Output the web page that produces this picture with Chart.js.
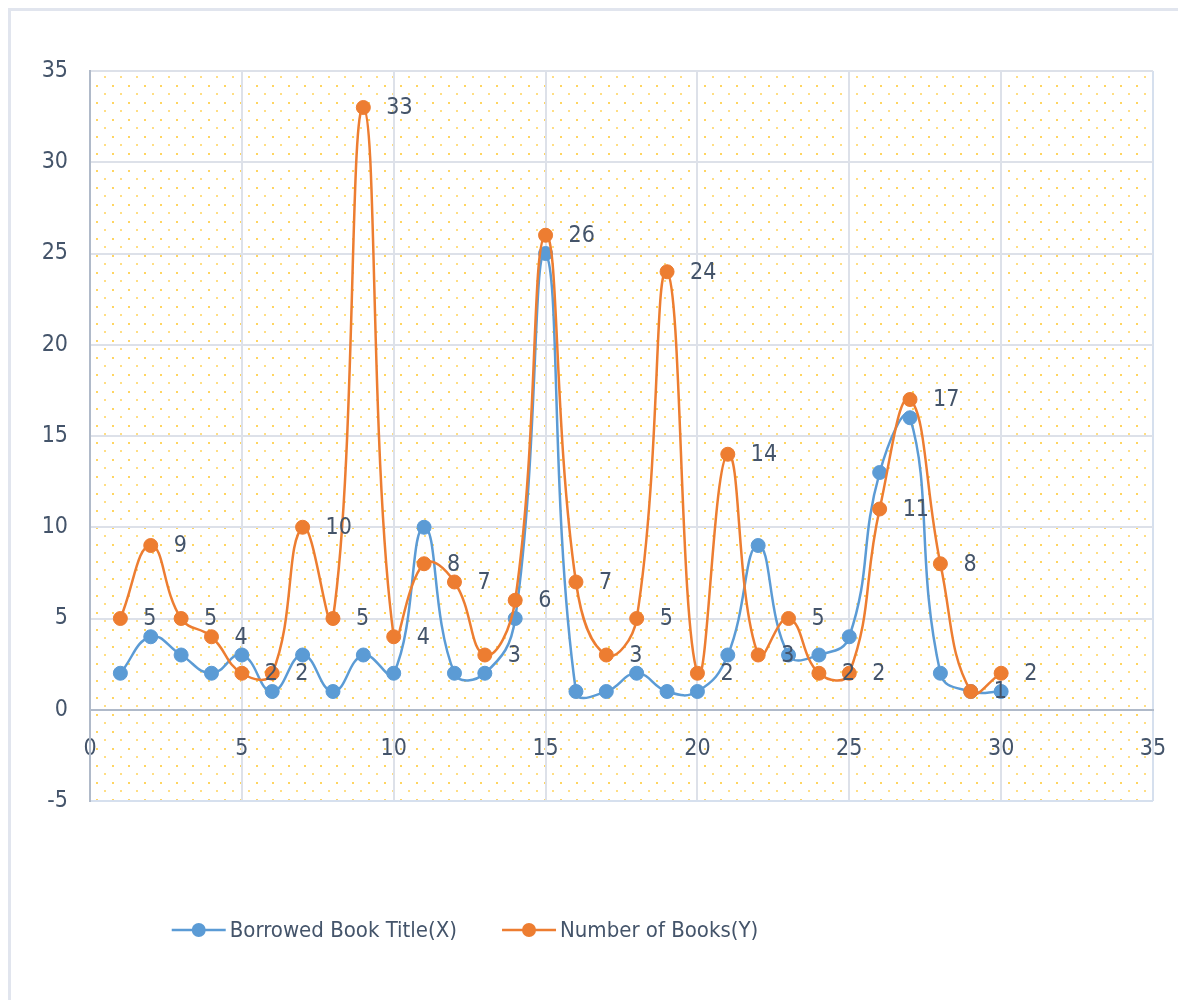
<!DOCTYPE html>
<html>
<head>
<meta charset="utf-8">
<script src="https://cdn.jsdelivr.net/npm/chart.js@4.4.0/dist/chart.umd.min.js"></script>
<style>
  html, body { margin: 0; padding: 0; background: #fff; }
  #wrap { width: 1178px; height: 1000px; }
</style>
</head>
<body>
<div id="wrap"><canvas id="chart" width="1178" height="1000"></canvas></div>
<script>
// chart values
const titleIndex = [1, 2, 3, 4, 5, 6, 7, 8, 9, 10, 11, 12, 13, 14, 15,
                    16, 17, 18, 19, 20, 21, 22, 23, 24, 25, 26, 27, 28, 29, 30];
const borrowedTitles = [2, 4, 3, 2, 3, 1, 3, 1, 3, 2, 10, 2, 2, 5, 25,
                        1, 1, 2, 1, 1, 3, 9, 3, 3, 4, 13, 16, 2, 1, 1];
const bookCounts = [5, 9, 5, 4, 2, 2, 10, 5, 33, 4, 8, 7, 3, 6, 26,
                    7, 3, 5, 24, 2, 14, 3, 5, 2, 2, 11, 17, 8, 1, 2];
const seriesNames = ['Borrowed Book Title(X)', 'Number of Books(Y)'];
const xRange = [0, 35];
const yRange = [-5, 35];
const tickStep = 5;

const BLUE = '#5b9bd5';
const ORANGE = '#ed7d31';
const TEXT = '#44546a';
const FONT = "'Liberation Sans Narrow', 'DejaVu Sans Condensed', sans-serif";

function toPoints(ys) {
    return titleIndex.map((x, i) => ({ x: x, y: ys[i] }));
}

// yellow dotted fill behind the plot
function makeDots() {
    const c = document.createElement('canvas');
    c.width = 16; c.height = 17;
    const g = c.getContext('2d');
    g.fillStyle = 'rgba(255, 208, 80, 0.9)';
    g.fillRect(0, 0, 2, 2);
    g.fillStyle = 'rgba(255, 208, 80, 0.7)';
    g.fillRect(8, 8, 2, 2);
    return c;
}

const backdrop = {
    id: 'backdrop',
    beforeDraw(chart) {
        const { ctx, chartArea: a } = chart;
        ctx.save();
        ctx.fillStyle = '#fff';
        ctx.fillRect(0, 0, chart.width, chart.height);
        ctx.strokeStyle = '#e1e5ee';
        ctx.lineWidth = 3;
        ctx.beginPath();
        ctx.moveTo(9.5, chart.height);
        ctx.lineTo(9.5, 9.5);
        ctx.lineTo(chart.width, 9.5);
        ctx.stroke();
        ctx.fillStyle = ctx.createPattern(makeDots(), 'repeat');
        ctx.fillRect(a.left, a.top, a.right - a.left, a.bottom - a.top);
        ctx.restore();
    }
};

const valueLabels = {
    id: 'valueLabels',
    afterDatasetsDraw(chart) {
        const { ctx } = chart;
        const meta = chart.getDatasetMeta(1);
        ctx.save();
        ctx.font = '23px ' + FONT;
        ctx.fillStyle = TEXT;
        ctx.textAlign = 'left';
        ctx.textBaseline = 'middle';
        meta.data.forEach((el, i) => {
            ctx.fillText(String(bookCounts[i]), el.x + 23, el.y + 1);
        });
        ctx.restore();
    }
};

const bottomLegend = {
    id: 'bottomLegend',
    afterDraw(chart) {
        const { ctx } = chart;
        const colors = [BLUE, ORANGE];
        const lineLen = 54, gapText = 4, gapItem = 45, y = 930;
        ctx.save();
        ctx.font = '22px ' + FONT;
        const widths = seriesNames.map(n => ctx.measureText(n).width);
        const total = widths.reduce((s, w) => s + w + lineLen + gapText, 0) + gapItem;
        let x = 465 - total / 2;
        seriesNames.forEach((name, i) => {
            ctx.strokeStyle = colors[i];
            ctx.lineWidth = 2.5;
            ctx.beginPath();
            ctx.moveTo(x, y);
            ctx.lineTo(x + lineLen, y);
            ctx.stroke();
            ctx.fillStyle = colors[i];
            ctx.beginPath();
            ctx.arc(x + lineLen / 2, y, 7, 0, Math.PI * 2);
            ctx.fill();
            ctx.fillStyle = TEXT;
            ctx.textBaseline = 'middle';
            ctx.fillText(name, x + lineLen + gapText, y + 1);
            x += lineLen + gapText + widths[i] + gapItem;
        });
        ctx.restore();
    }
};

function seriesStyle(color) {
    return {
        borderColor: color,
        backgroundColor: color,
        borderWidth: 2.5,
        pointRadius: 7,
        pointHoverRadius: 7,
        pointBorderWidth: 1,
        pointBackgroundColor: color,
        tension: 0.45,
        fill: false
    };
}

new Chart(document.getElementById('chart'), {
    type: 'line',
    data: {
        datasets: [
            Object.assign({ label: seriesNames[0], data: toPoints(borrowedTitles), order: 1 }, seriesStyle(BLUE)),
            Object.assign({ label: seriesNames[1], data: toPoints(bookCounts), order: 0 }, seriesStyle(ORANGE))
        ]
    },
    options: {
        responsive: false,
        animation: false,
        layout: { padding: { left: 0, top: 71, right: 25, bottom: 199 } },
        plugins: {
            legend: { display: false },
            tooltip: { enabled: false }
        },
        scales: {
            x: {
                type: 'linear',
                position: { y: 0 },
                min: xRange[0],
                max: xRange[1],
                afterFit(s) { s.paddingLeft = 0; s.paddingRight = 0; },
                ticks: {
                    stepSize: tickStep,
                    padding: 25,
                    color: TEXT,
                    font: { family: FONT, size: 23 }
                },
                grid: {
                    drawTicks: false,
                    lineWidth: 2,
                    color: c => c.tick && c.tick.value === xRange[1] ? '#d6e0ee' : '#dde1e9'
                },
                border: { display: true, color: '#b0bac9', width: 2 }
            },
            y: {
                min: yRange[0],
                max: yRange[1],
                afterFit(s) { s.width = 90; },
                ticks: {
                    stepSize: tickStep,
                    padding: 22,
                    color: TEXT,
                    font: { family: FONT, size: 23 }
                },
                grid: {
                    drawTicks: false,
                    lineWidth: 2,
                    color: c => {
                        if (!c.tick) return '#dde1e9';
                        if (c.tick.value === 0) return '#b0bac9';
                        if (c.tick.value === yRange[0]) return '#d6e0ee';
                        return '#dde1e9';
                    }
                },
                border: { display: true, color: '#b0bac9', width: 2 }
            }
        }
    },
    plugins: [backdrop, valueLabels, bottomLegend]
});
</script>
</body>
</html>
